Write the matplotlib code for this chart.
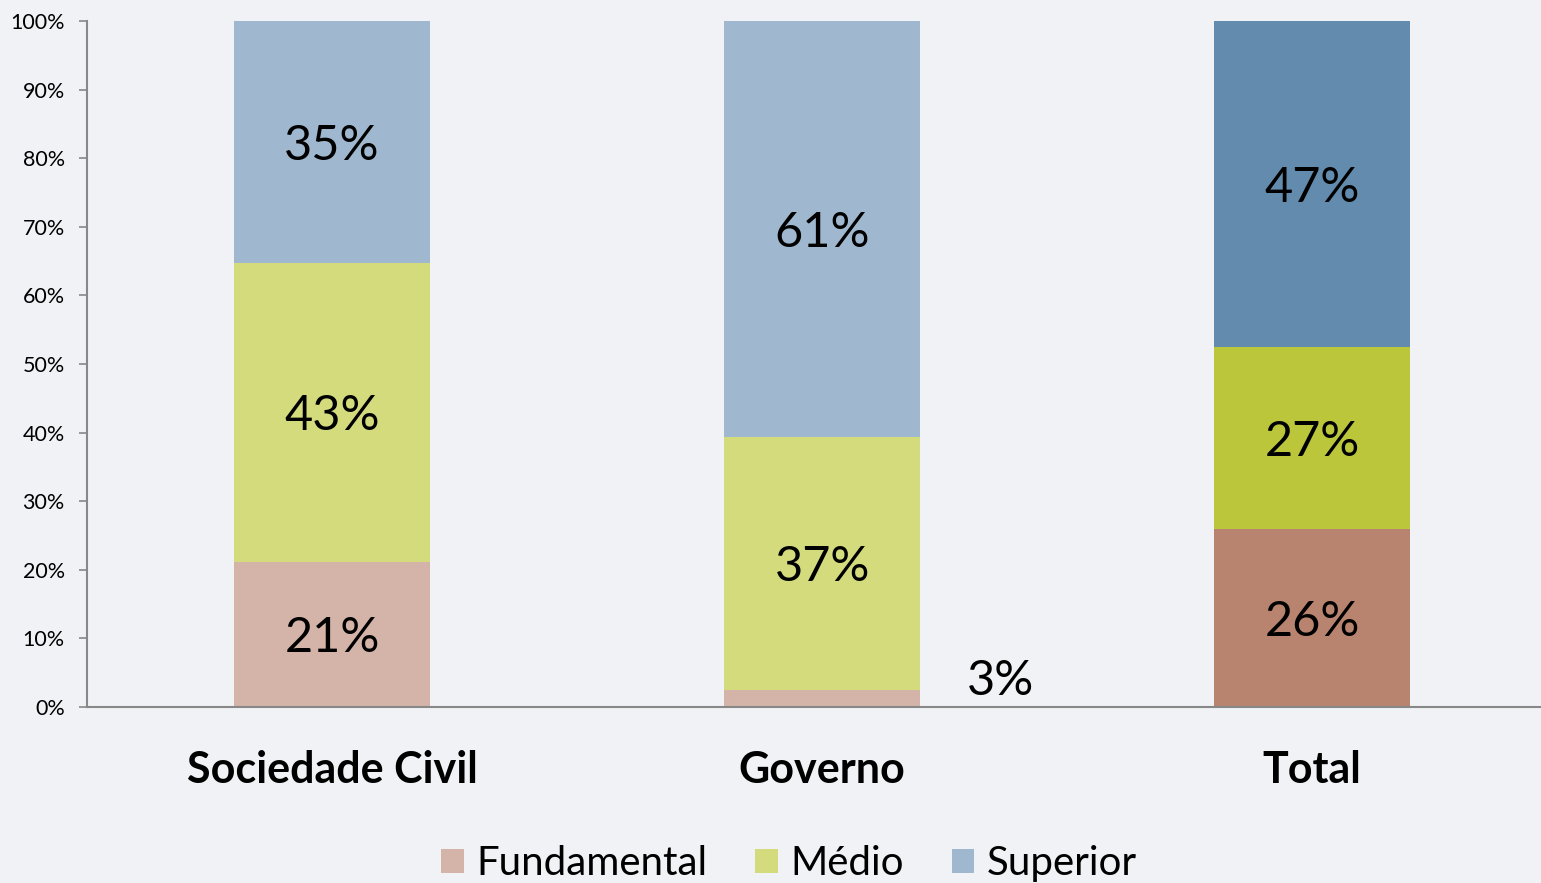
import matplotlib.pyplot as plt
from matplotlib.patches import Patch
import numpy as np

plt.rcParams['font.family'] = ['Lato', 'DejaVu Sans']

categories = ['Sociedade Civil', 'Governo', 'Total']
series = ['Fundamental', 'Médio', 'Superior']

# share of each level, in percent
fundamental = [21.2, 2.5, 26.0]
medio = [43.5, 36.9, 26.5]
superior = [35.3, 60.6, 47.5]

fundamental_labels = ['21%', '3%', '26%']
medio_labels = ['43%', '37%', '27%']
superior_labels = ['35%', '61%', '47%']

# lighter colours for the groups, darker for the total
light = ['#D4B3A8', '#D4DB7C', '#A0B8CF']
dark = ['#B8846F', '#BCC63A', '#628BAE']

bg = '#F1F2F6'
fig = plt.figure(figsize=(15.41, 8.83), dpi=100, facecolor=bg)
ax = fig.add_axes([0.0565, 0.1993, 0.9435, 0.7769], facecolor=bg)

x = np.arange(len(categories))
width = 0.4
bottom = np.zeros(len(categories))
values = [fundamental, medio, superior]
labels = [fundamental_labels, medio_labels, superior_labels]

for k, (vals, labs) in enumerate(zip(values, labels)):
    colors = [light[k], light[k], dark[k]]
    ax.bar(x, vals, width, bottom=bottom, color=colors, edgecolor='none')
    for i in range(len(categories)):
        if vals[i] < 5:
            # small segment: label sits beside the bar
            ax.text(x[i] + 0.365, bottom[i] + 3.8, labs[i], ha='center', va='center',
                    fontsize=35, color='black')
        else:
            ax.text(x[i], bottom[i] + vals[i] / 2 - 0.6, labs[i], ha='center', va='center',
                    fontsize=35, color='black')
    bottom += np.array(vals)

ax.set_xlim(-0.5, 2.467)
ax.set_ylim(0, 100)
ax.set_yticks(np.arange(0, 101, 10))
ax.set_yticklabels([f'{v}%' for v in range(0, 101, 10)], fontsize=15.5)
ax.set_xticks(x)
ax.set_xticklabels(categories, fontsize=31, fontweight='bold')
ax.tick_params(axis='x', length=0, pad=31)
ax.tick_params(axis='y', length=6, width=1.2, color='#888888', pad=10)

for side in ['top', 'right']:
    ax.spines[side].set_visible(False)
ax.spines['left'].set_color('#888888')
ax.spines['bottom'].set_color('#888888')
ax.spines['left'].set_linewidth(1.5)
ax.spines['bottom'].set_linewidth(1.5)

handles = [Patch(facecolor=c, edgecolor='none') for c in light]
fig.legend(handles, series, loc='lower center', bbox_to_anchor=(0.512, -0.04), ncol=3,
           frameon=False, fontsize=29, handlelength=0.56, handleheight=0.56,
           handletextpad=0.3, columnspacing=1.2)

fig.savefig('out.png', dpi=100, facecolor=bg)
